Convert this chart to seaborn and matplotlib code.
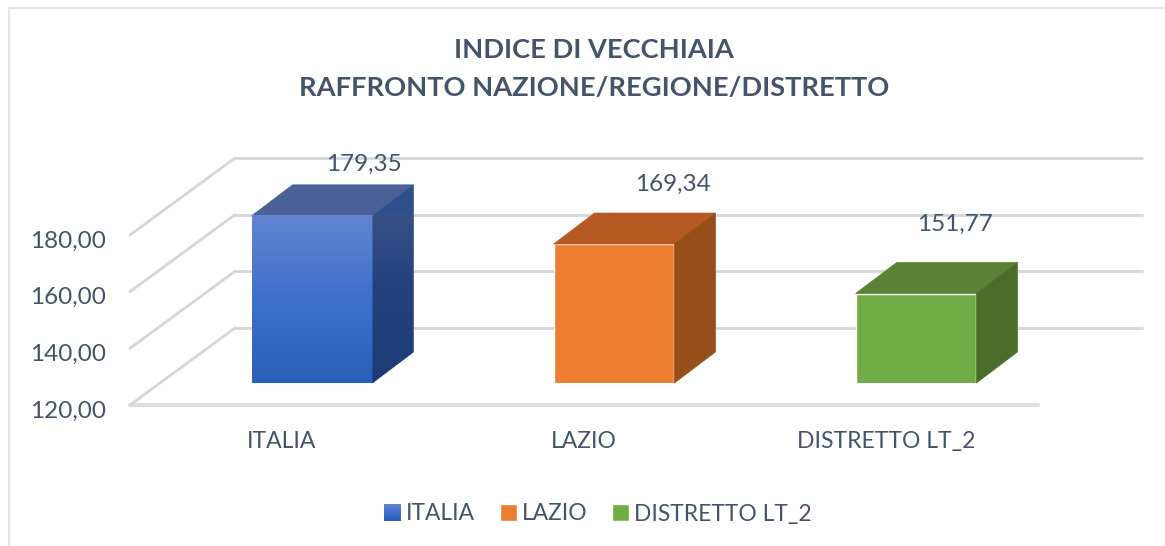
import numpy as np
import pandas as pd
import seaborn as sns
import matplotlib.pyplot as plt
from matplotlib.colors import LinearSegmentedColormap
from matplotlib.legend_handler import HandlerPatch
from matplotlib.lines import Line2D
from matplotlib.patches import ConnectionPatch, Patch, Polygon, Rectangle
from matplotlib.transforms import ScaledTranslation

# Data
categories = ["ITALIA", "LAZIO", "DISTRETTO LT_2"]
values = [179.35, 169.34, 151.77]
value_labels = ["179,35", "169,34", "151,77"]
y_ticks = [120, 140, 160, 180]
y_tick_labels = ["120,00", "140,00", "160,00", "180,00"]
title_lines = ["INDICE DI VECCHIAIA", "RAFFRONTO NAZIONE/REGIONE/DISTRETTO"]

front_colors = ["#4472C4", "#ED7D31", "#70AD47"]
top_colors = ["#4A6198", "#B55A22", "#5A8235"]
side_colors = ["#2F4F8C", "#964F1B", "#4A6E2A"]
text_color = "#44546A"
grid_color = "#D4D6DA"

W, H = 1165, 546
sns.set_theme(style="white")
plt.rcParams["font.family"] = ["Lato", "DejaVu Sans"]

fig = plt.figure(figsize=(W / 100, H / 100), dpi=100)


def make_axes(left, right, base, top):
    # pixel box, y measured from the top of the image
    a = fig.add_axes([left / W, 1 - base / H, (right - left) / W, (base - top) / H])
    a.set_xlim(-0.5, 2.5)
    a.set_ylim(120, 180)
    a.patch.set_visible(False)
    sns.despine(ax=a, left=True, bottom=True)
    return a


# Three planes of the fake 3D box: floor edge, bars, back wall
ax_front = make_axes(130, 1038, 405, 235)
ax_back = make_axes(235, 1142, 328, 158)
ax = make_axes(161, 1067, 383, 214)
ax.set_zorder(3)

# Back wall lines
ax_back.set_yticks(y_ticks)
ax_back.set_xticks([])
ax_back.tick_params(left=False, labelleft=False)
ax_back.grid(axis="y", color=grid_color, linewidth=2, clip_on=False)
for line in ax_back.get_ygridlines():
    line.set_clip_on(False)

# Side wall lines and floor
for v in y_ticks:
    con = ConnectionPatch(xyA=(-0.5, v), coordsA=ax_front.transData,
                          xyB=(-0.5, v), coordsB=ax_back.transData,
                          color=grid_color, linewidth=2)
    fig.add_artist(con)
ax_front.axhline(120, color="#DDDFE3", linewidth=3, clip_on=False)

# Labels live on the front plane
ax_front.set_xticks(range(3))
ax_front.set_xticklabels(categories)
ax_front.set_yticks(y_ticks)
ax_front.set_yticklabels(y_tick_labels)
ax_front.tick_params(axis="x", length=0, pad=19, labelsize=16.5, labelcolor=text_color)
ax_front.tick_params(axis="y", length=0, pad=17, labelsize=17.5, labelcolor=text_color)
for lab in ax_front.get_yticklabels():
    lab.set_transform(lab.get_transform() + ScaledTranslation(0, -4 / 100, fig.dpi_scale_trans))

# Bars
df = pd.DataFrame({"categoria": categories, "valore": values})
sns.barplot(data=df, x="categoria", y="valore", hue="categoria", order=categories,
            hue_order=categories, palette=front_colors, width=0.4, dodge=False,
            saturation=1, legend=False, ax=ax)
ax.set_xlabel("")
ax.set_ylabel("")
ax.set_xticks([])
ax.set_yticks([])
ax.set_xlim(-0.5, 2.5)
ax.set_ylim(120, 180)

# Depth of the bars, 41 px right and 31 px up
dx = 41 / (906 / 3)
dy = 31 / (169 / 60)

blue_front = LinearSegmentedColormap.from_list("bf", ["#2C5FB9", "#3D70CB", "#6285D0"])
blue_side = LinearSegmentedColormap.from_list("bs", ["#1D3B77", "#25427F", "#3F5687"])
grad = np.linspace(1, 0, 256).reshape(-1, 1)

bars = list(ax.patches)
for i, bar in enumerate(bars):
    x0 = bar.get_x()
    x1 = x0 + bar.get_width()
    y1 = bar.get_y() + bar.get_height()
    y0 = 120
    top = Polygon([(x0, y1), (x1, y1), (x1 + dx, y1 + dy), (x0 + dx, y1 + dy)],
                  facecolor=top_colors[i], edgecolor=top_colors[i], linewidth=0.5, clip_on=False)
    side = Polygon([(x1, y0), (x1 + dx, y0 + dy), (x1 + dx, y1 + dy), (x1, y1)],
                   facecolor=side_colors[i], edgecolor=side_colors[i], linewidth=0.5, clip_on=False)
    ax.add_patch(top)
    ax.add_patch(side)
    if i == 0:
        # Gradient fill on the first bar only
        ax.imshow(grad, cmap=blue_front, aspect="auto", extent=(x0, x1, y0, y1),
                  zorder=4, clip_on=False)
        im = ax.imshow(grad, cmap=blue_side, aspect="auto",
                       extent=(x1, x1 + dx, y0, y1 + dy), zorder=4)
        im.set_clip_on(True)
        im.set_clip_path(side)
        ax.set_xlim(-0.5, 2.5)
        ax.set_ylim(120, 180)

# Data labels sit by hand above the bars, offsets in px
label_offsets = [(52, 51), (59, 60), (39, 69)]
for i, bar in enumerate(bars):
    xc = bar.get_x() + bar.get_width() / 2
    ax.annotate(value_labels[i], (xc, values[i]),
                xytext=(label_offsets[i][0] * 0.72, label_offsets[i][1] * 0.72),
                textcoords="offset points", ha="center", va="center",
                fontsize=17.5, color=text_color, annotation_clip=False, zorder=6)

# Title
fig.text(594 / W, 1 - 50 / H, title_lines[0], ha="center", va="center",
         fontsize=19.6, fontweight="bold", color=text_color)
fig.text(594 / W, 1 - 88 / H, title_lines[1], ha="center", va="center",
         fontsize=19.6, fontweight="bold", color=text_color)


# Legend, first key keeps the bar's gradient
class GradientKey(HandlerPatch):
    def create_artists(self, legend, orig_handle, xdescent, ydescent, width, height,
                       fontsize, trans):
        n = 12
        cols = blue_front(np.linspace(1, 0, n))
        return [Rectangle((-xdescent, -ydescent + height * (n - 1 - k) / n), width, height / n + 0.3,
                          facecolor=cols[k], edgecolor="none", transform=trans)
                for k in range(n)]


handles = [Patch(facecolor=c, label=n) for c, n in zip(front_colors, categories)]
fig.legend(handles=handles, loc="center", bbox_to_anchor=(598 / W, 1 - 514 / H), ncol=3,
           frameon=False, fontsize=16.4, labelcolor=text_color, handlelength=0.75,
           handleheight=0.75, handletextpad=0.2, columnspacing=1.1,
           handler_map={handles[0]: GradientKey()})

# Chart border
fig.add_artist(Line2D([9 / W, 9 / W], [0, 1 - 8 / H], color="#E3E6EA", linewidth=1.5))
fig.add_artist(Line2D([9 / W, 1], [1 - 8 / H, 1 - 8 / H], color="#E3E6EA", linewidth=1.5))

fig.savefig("out.png", dpi=100)
